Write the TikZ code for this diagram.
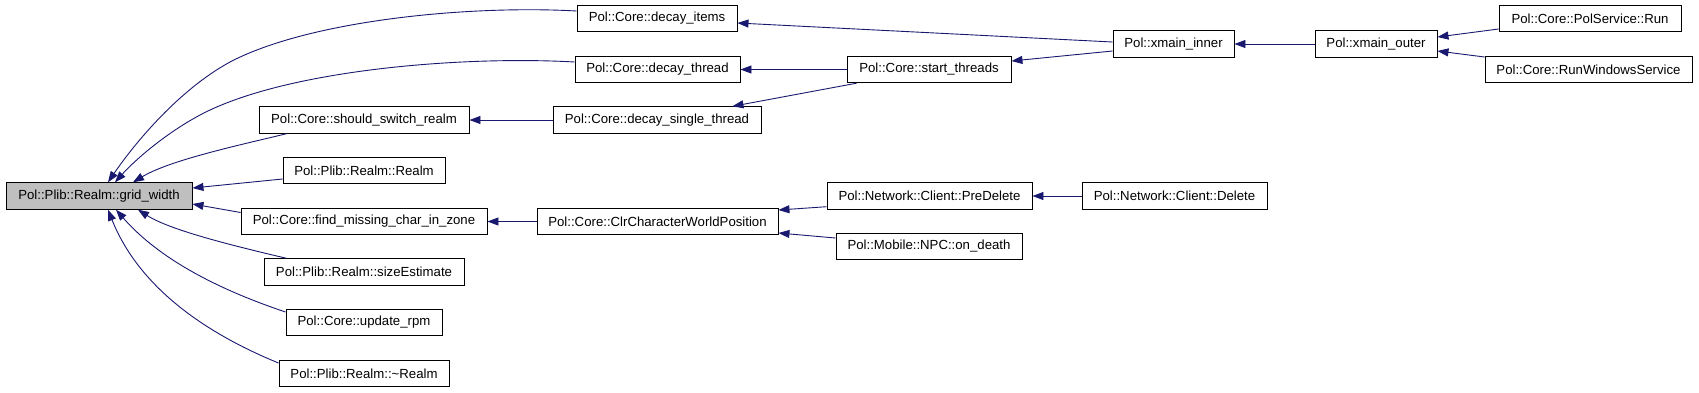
\documentclass[tikz,border=0pt]{standalone}
\usepackage{fontspec}
\setmainfont{Liberation Sans}
\usetikzlibrary{arrows.meta}
\definecolor{edgeblue}{HTML}{191970}
\definecolor{rootgray}{HTML}{BFBFBF}
\begin{document}
\begin{tikzpicture}[x=1pt,y=-1pt,
  fn/.style={draw=black, line width=0.9pt, fill=white, minimum height=26.5pt, inner sep=0pt, font=\fontsize{13.2}{15}\selectfont},
  root/.style={fn, fill=rootgray},
  call/.style={draw=edgeblue, line width=0.9pt, -{Triangle[length=11pt,width=8pt]}}]
\fill[white] (0,0) rectangle (1699,392);
\useasboundingbox (0,0) rectangle (1699,392);

% nodes
\node[root, minimum width=186pt] (gw) at (99,196) {Pol::Plib::Realm::grid\_width};
\node[fn, minimum width=160pt] (di) at (657,18.5) {Pol::Core::decay\_items};
\node[fn, minimum width=165pt] (dt) at (657.5,69.5) {Pol::Core::decay\_thread};
\node[fn, minimum width=208pt] (ds) at (657,120) {Pol::Core::decay\_single\_thread};
\node[fn, minimum width=164pt] (st) at (929,69.5) {Pol::Core::start\_threads};
\node[fn, minimum width=210pt] (ss) at (364,120) {Pol::Core::should\_switch\_realm};
\node[fn, minimum width=162pt] (rr) at (364,170.5) {Pol::Plib::Realm::Realm};
\node[fn, minimum width=246pt] (fm) at (364,221.5) {Pol::Core::find\_missing\_char\_in\_zone};
\node[fn, minimum width=200pt] (se) at (364,272) {Pol::Plib::Realm::sizeEstimate};
\node[fn, minimum width=156pt] (ur) at (364,322.5) {Pol::Core::update\_rpm};
\node[fn, minimum width=170pt] (tr) at (364,373.5) {Pol::Plib::Realm::\textasciitilde Realm};
\node[fn, minimum width=241pt] (cw) at (657.5,221.5) {Pol::Core::ClrCharacterWorldPosition};
\node[fn, minimum width=205pt] (pd) at (929.5,196) {Pol::Network::Client::PreDelete};
\node[fn, minimum width=186pt] (np) at (929,246.5) {Pol::Mobile::NPC::on\_death};
\node[fn, minimum width=185pt] (cd) at (1174.5,196) {Pol::Network::Client::Delete};
\node[fn, minimum width=121pt] (xi) at (1173.5,44) {Pol::xmain\_inner};
\node[fn, minimum width=122pt] (xo) at (1376,44) {Pol::xmain\_outer};
\node[fn, minimum width=182pt] (ps) at (1590,18.5) {Pol::Core::PolService::Run};
\node[fn, minimum width=207pt] (rw) at (1588.5,69.5) {Pol::Core::RunWindowsService};

% edges into grid_width
\draw[call] ([yshift=7.5pt]di.west) .. controls (470,5) and (310,20) .. (230,62)
  .. controls (175,92) and (130,150) .. ([xshift=9pt]gw.north);
\draw[call] ([yshift=7.5pt]dt.west) .. controls (470,56) and (300,68) .. (210,110)
  .. controls (170,129) and (135,160) .. ([xshift=16pt]gw.north);
\draw[call] ([xshift=28pt]ss.south west) .. controls (240,145) and (170,160) .. ([xshift=34pt]gw.north);
\draw[call] ([yshift=-8.5pt]rr.west) -- ([yshift=8pt]gw.east);
\draw[call] ([yshift=9pt]fm.west) -- ([yshift=-8pt]gw.east);
\draw[call] ([xshift=23pt]se.north west) .. controls (230,245) and (170,230) .. ([xshift=39pt]gw.south);
\draw[call] ([yshift=10.5pt]ur.west) .. controls (220,290) and (160,260) .. ([xshift=17pt]gw.south);
\draw[call] ([yshift=10.5pt]tr.west) .. controls (210,335) and (140,290) .. ([xshift=9pt]gw.south);

% other edges
\draw[call] (st.west) -- (dt.east);
\draw[call] ([xshift=10pt]st.south west) -- ([xshift=-29pt]ds.north east);
\draw[call] (ds.west) -- (ss.east);
\draw[call] ([yshift=2pt]xi.west) -- ([yshift=-4.5pt]di.east);
\draw[call] ([yshift=-7pt]xi.west) -- ([yshift=8.5pt]st.east);
\draw[call] (xo.west) -- (xi.east);
\draw[call] ([yshift=-10.5pt]ps.west) -- ([yshift=7pt]xo.east);
\draw[call] ([yshift=12.5pt]rw.west) -- ([yshift=-7pt]xo.east);
\draw[call] (cw.west) -- (fm.east);
\draw[call] ([yshift=-10.7pt]pd.west) -- ([yshift=11.5pt]cw.east);
\draw[call] ([yshift=8.5pt]np.west) -- ([yshift=-11.5pt]cw.east);
\draw[call] (cd.west) -- (pd.east);
\end{tikzpicture}
\end{document}
